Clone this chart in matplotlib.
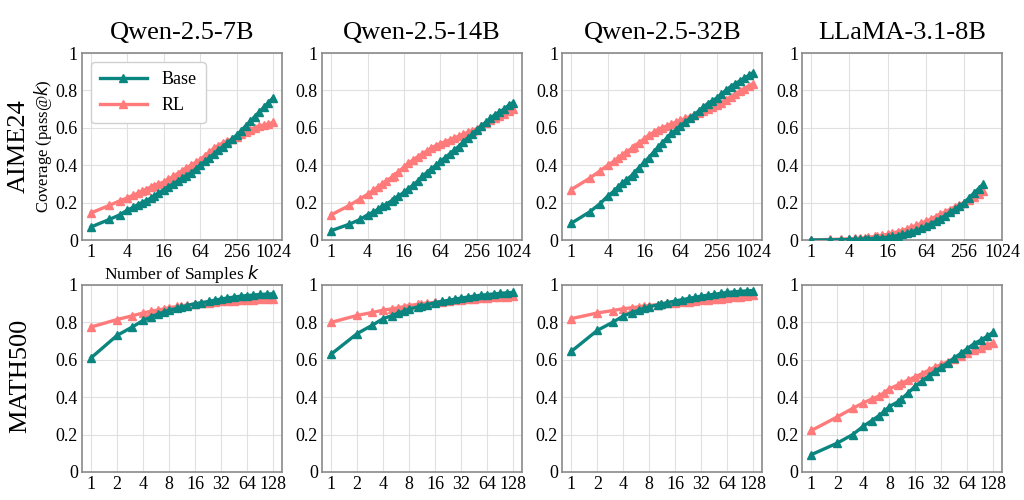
import numpy as np
import matplotlib
matplotlib.use("Agg")
import matplotlib.pyplot as plt

plt.rcParams['font.family'] = ['Liberation Serif', 'DejaVu Serif']
plt.rcParams['mathtext.fontset'] = 'dejavusans'

models = ["Qwen-2.5-7B", "Qwen-2.5-14B", "Qwen-2.5-32B", "LLaMA-3.1-8B"]
datasets = ["AIME24", "MATH500"]

# sampled k values
k_aime = [1, 2, 3, 4, 5, 6, 7, 8, 10, 11, 13, 16, 19, 23, 27, 32, 38, 45, 54, 64,
          76, 91, 108, 128, 152, 181, 215, 256, 304, 362, 431, 512, 609, 724, 861, 1024]
k_aime_llama = [1, 2, 3, 4, 5, 6, 7, 8, 10, 11, 13, 16, 19, 23, 27, 32, 38, 45, 54, 64,
                76, 91, 108, 128, 152, 181, 215, 256, 304, 362, 431, 512]
k_math = [1, 2, 3, 4, 5, 6, 7, 8, 10, 11, 13, 16, 19, 23, 27, 32, 38, 45, 54, 64,
          76, 91, 108, 128]

# AIME24 pass@k
aime_base_7b = [.07, .11, .135, .16, .175, .19, .20, .21, .225, .235, .25, .27, .285, .30, .315, .33, .345, .36,
                .38, .40, .42, .44, .46, .48, .50, .52, .54, .56, .585, .61, .635, .66, .685, .71, .735, .76]
aime_rl_7b = [.145, .185, .21, .225, .24, .25, .26, .27, .285, .29, .30, .31, .325, .34, .355, .37, .385, .40,
              .415, .43, .45, .47, .49, .505, .52, .53, .54, .55, .565, .58, .59, .60, .61, .615, .62, .63]
aime_base_14b = [.05, .085, .11, .135, .15, .165, .18, .19, .21, .22, .235, .255, .275, .295, .315, .34, .36, .38,
                 .40, .42, .44, .46, .48, .50, .525, .545, .565, .59, .61, .63, .65, .67, .685, .70, .72, .735]
aime_rl_14b = [.135, .185, .22, .245, .265, .285, .30, .315, .335, .345, .365, .39, .41, .43, .445, .46, .475, .49,
               .505, .515, .525, .535, .545, .555, .565, .575, .585, .595, .61, .625, .64, .655, .665, .675, .69, .70]
aime_base_32b = [.09, .15, .195, .235, .26, .285, .305, .32, .345, .36, .385, .415, .44, .47, .495, .52, .545, .57,
                 .59, .61, .63, .65, .67, .69, .71, .73, .745, .76, .78, .80, .82, .835, .85, .865, .88, .895]
aime_rl_32b = [.27, .33, .37, .40, .42, .44, .455, .47, .49, .50, .52, .54, .56, .575, .59, .60, .61, .62,
               .63, .64, .65, .66, .67, .68, .69, .70, .71, .72, .735, .75, .765, .78, .795, .81, .825, .835]
aime_base_llama = [0, .001, .002, .003, .004, .005, .006, .007, .009, .01, .012, .015, .019, .024, .03, .036,
                   .043, .052, .062, .073, .087, .10, .115, .13, .148, .165, .18, .20, .225, .25, .275, .30]
aime_rl_llama = [.001, .003, .005, .007, .009, .011, .013, .015, .019, .021, .025, .031, .037, .044, .051, .059,
                 .068, .078, .089, .10, .112, .125, .138, .15, .163, .177, .19, .20, .215, .23, .245, .26]

# MATH500 pass@k
math_base_7b = [.61, .73, .775, .81, .83, .845, .855, .865, .875, .88, .89, .90, .905, .912, .918, .925, .93,
                .935, .94, .943, .946, .949, .951, .953]
math_rl_7b = [.775, .815, .835, .85, .86, .866, .872, .878, .885, .888, .893, .898, .902, .906, .909, .912, .914,
              .916, .918, .92, .922, .924, .925, .926]
math_base_14b = [.63, .74, .785, .82, .835, .85, .86, .872, .882, .887, .895, .905, .912, .918, .924, .93, .935,
                 .94, .945, .948, .952, .955, .958, .96]
math_rl_14b = [.80, .837, .853, .865, .872, .878, .884, .89, .896, .899, .903, .907, .911, .915, .918, .921, .924,
               .927, .93, .932, .934, .936, .938, .94]
math_base_32b = [.645, .757, .80, .834, .852, .865, .875, .884, .893, .898, .906, .914, .921, .928, .934, .94,
                 .945, .95, .955, .96, .963, .966, .968, .97]
math_rl_32b = [.82, .85, .863, .873, .878, .883, .887, .89, .895, .898, .901, .905, .908, .911, .915, .918, .921,
               .924, .927, .93, .934, .938, .942, .945]
math_base_llama = [.093, .155, .20, .245, .275, .30, .325, .35, .375, .39, .42, .46, .485, .515, .54, .56, .585,
                   .61, .635, .66, .685, .705, .725, .748]
math_rl_llama = [.222, .295, .34, .37, .39, .405, .425, .445, .465, .475, .49, .51, .525, .545, .56, .575, .59,
                 .605, .62, .635, .65, .665, .678, .692]

aime_xticks = [1, 4, 16, 64, 256, 1024]
math_xticks = [1, 2, 4, 8, 16, 32, 64, 128]
yticks = [0, 0.2, 0.4, 0.6, 0.8, 1.0]
ytick_labels = ["0", "0.2", "0.4", "0.6", "0.8", "1"]

base_color = "#0b8580"
rl_color = "#ff7a7a"

panels = [
    [(k_aime, aime_base_7b, aime_rl_7b), (k_aime, aime_base_14b, aime_rl_14b),
     (k_aime, aime_base_32b, aime_rl_32b), (k_aime_llama, aime_base_llama, aime_rl_llama)],
    [(k_math, math_base_7b, math_rl_7b), (k_math, math_base_14b, math_rl_14b),
     (k_math, math_base_32b, math_rl_32b), (k_math, math_base_llama, math_rl_llama)],
]

fig, axes = plt.subplots(2, 4, figsize=(10.24, 5), dpi=100)
plt.subplots_adjust(left=0.080, right=0.979, bottom=0.056, top=0.894, wspace=0.2, hspace=0.24)

for r in range(2):
    for c in range(4):
        ax = axes[r, c]
        k, base, rl = panels[r][c]
        ax.plot(k, base, color=base_color, marker="^", markersize=5.5, linewidth=2.4, label="Base", zorder=3)
        ax.plot(k, rl, color=rl_color, marker="^", markersize=5.5, linewidth=2.4, label="RL", zorder=2)
        ax.set_xscale("log", base=2)
        ticks = aime_xticks if r == 0 else math_xticks
        ax.set_xticks(ticks)
        ax.set_xticklabels([str(t) for t in ticks])
        ax.minorticks_off()
        if r == 0 and c == 3:
            ax.set_xlim(2 ** -0.45, 1024)
        ax.set_ylim(0, 1)
        ax.set_yticks(yticks)
        ax.set_yticklabels(ytick_labels)
        ax.tick_params(length=0, labelsize=13, pad=3)
        ax.grid(True, color="#e0e0e0", linewidth=0.8)
        ax.set_axisbelow(True)
        for s in ax.spines.values():
            s.set_color("#8a8a8a")
            s.set_linewidth(1.2)
        if r == 0:
            ax.set_title(models[c], fontsize=19, pad=10)

axes[0, 0].set_ylabel("Coverage (pass@$k$)", fontsize=12, labelpad=1)
axes[0, 0].set_xlabel("Number of Samples $k$", fontsize=12.5, labelpad=1)
axes[0, 0].legend(loc="upper left", fontsize=13, handlelength=2.6, framealpha=1,
                  edgecolor="#d0d0d0", borderpad=0.5)

fig.text(0.018, 0.708, datasets[0], rotation=90, fontsize=19, va="center", ha="center")
fig.text(0.020, 0.248, datasets[1], rotation=90, fontsize=19, va="center", ha="center")

plt.savefig("out.png", dpi=100)
